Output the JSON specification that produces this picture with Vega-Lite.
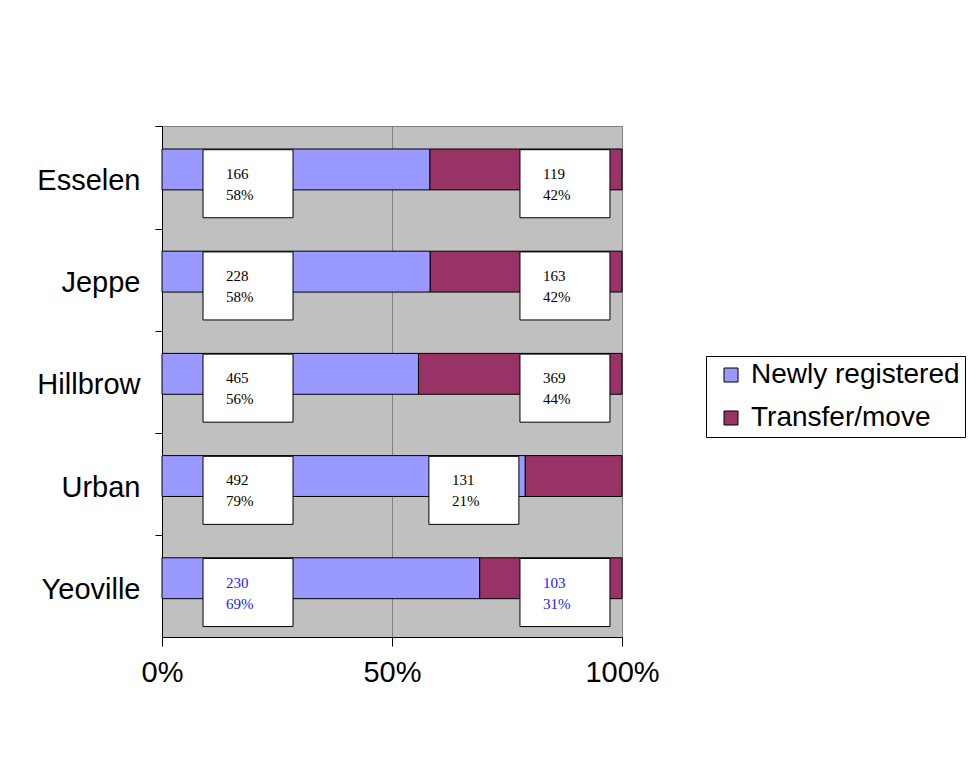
{
  "$schema": "https://vega.github.io/schema/vega-lite/v6.json",
  "width": 460,
  "height": 511,
  "autosize": {"type": "none"},
  "padding": {"left": 162, "top": 126, "right": 347, "bottom": 137},
  "background": "white",
  "config": {"view": {"fill": "#C0C0C0", "stroke": "#808080"}, "font": "Liberation Sans"},
  "data": {"values": [
    {"site": "Esselen", "series": "Newly registered", "count": 166},
    {"site": "Esselen", "series": "Transfer/move", "count": 119},
    {"site": "Jeppe", "series": "Newly registered", "count": 228},
    {"site": "Jeppe", "series": "Transfer/move", "count": 163},
    {"site": "Hillbrow", "series": "Newly registered", "count": 465},
    {"site": "Hillbrow", "series": "Transfer/move", "count": 369},
    {"site": "Urban", "series": "Newly registered", "count": 492},
    {"site": "Urban", "series": "Transfer/move", "count": 131},
    {"site": "Yeoville", "series": "Newly registered", "count": 230},
    {"site": "Yeoville", "series": "Transfer/move", "count": 103}
  ]},
  "transform": [
    {"joinaggregate": [{"op": "sum", "field": "count", "as": "total"}], "groupby": ["site"]},
    {"calculate": "datum.count / datum.total", "as": "share"},
    {"calculate": "datum.series === 'Newly registered' ? 0 : 1", "as": "ord"},
    {"calculate": "datum.series === 'Newly registered' ? 0.187 : (datum.site === 'Urban' ? 0.678 : 0.876)", "as": "lx"},
    {"calculate": "[format(datum.count, 'd'), format(datum.share, '.0%')]", "as": "label"}
  ],
  "encoding": {
    "y": {
      "field": "site",
      "type": "nominal",
      "sort": ["Esselen", "Jeppe", "Hillbrow", "Urban", "Yeoville"],
      "scale": {"type": "band", "paddingInner": 0.6, "paddingOuter": 0.3, "align": 0.375},
      "axis": {
        "title": null,
        "labelFontSize": 29,
        "labelColor": "black",
        "labelFont": "Liberation Sans",
        "tickColor": "black",
        "domainColor": "black",
        "tickSize": 7,
        "labelPadding": 15,
        "tickOffset": -43,
        "labelOffset": 54,
        "grid": false
      }
    }
  },
  "layer": [
    {
      "mark": {"type": "bar", "stroke": "black", "strokeWidth": 1},
      "encoding": {
        "x": {
          "field": "count",
          "type": "quantitative",
          "stack": "normalize",
          "scale": {"domain": [0, 1]},
          "axis": {
            "format": "%",
            "values": [0, 0.5, 1],
            "title": null,
            "labelFontSize": 29,
            "labelFont": "Liberation Sans",
            "labelColor": "black",
            "tickSize": 9,
            "labelPadding": 12,
            "grid": true,
            "gridColor": "#808080",
            "gridOpacity": 1,
            "domainColor": "black",
            "tickColor": "black",
            "labelFlush": false
          }
        },
        "color": {
          "field": "series",
          "type": "nominal",
          "scale": {"domain": ["Newly registered", "Transfer/move"], "range": ["#9999FF", "#993366"]},
          "legend": {
            "orient": "none",
            "legendX": 544,
            "legendY": 230,
            "title": null,
            "symbolType": "square",
            "symbolSize": 196,
            "symbolStrokeColor": "black",
            "symbolStrokeWidth": 1,
            "symbolOffset": 6,
            "labelFontSize": 28,
            "labelFont": "Liberation Sans",
            "labelColor": "black",
            "labelLimit": 400,
            "labelOffset": 6,
            "strokeColor": "black",
            "fillColor": "white",
            "padding": 5,
            "rowPadding": 15
          }
        },
        "order": {"field": "ord", "type": "quantitative"}
      }
    },
    {
      "mark": {"type": "point", "shape": "M-1,-0.756H1V0.756H-1Z", "size": 8100, "filled": true, "fill": "white", "stroke": "black", "strokeWidth": 1, "opacity": 1},
      "encoding": {
        "x": {"field": "lx", "type": "quantitative"},
        "y": {"field": "site", "type": "nominal", "sort": ["Esselen", "Jeppe", "Hillbrow", "Urban", "Yeoville"], "bandPosition": 0.85}
      }
    },
    {
      "mark": {"type": "text", "align": "left", "dx": -22, "dy": -10, "baseline": "middle", "lineHeight": 21, "font": "Liberation Serif", "fontSize": 15},
      "encoding": {
        "x": {"field": "lx", "type": "quantitative"},
        "y": {"field": "site", "type": "nominal", "sort": ["Esselen", "Jeppe", "Hillbrow", "Urban", "Yeoville"], "bandPosition": 0.85},
        "text": {"field": "label"},
        "color": {"condition": {"test": "datum.site === 'Yeoville'", "value": "#1A1AFF"}, "value": "black"}
      }
    }
  ]
}
